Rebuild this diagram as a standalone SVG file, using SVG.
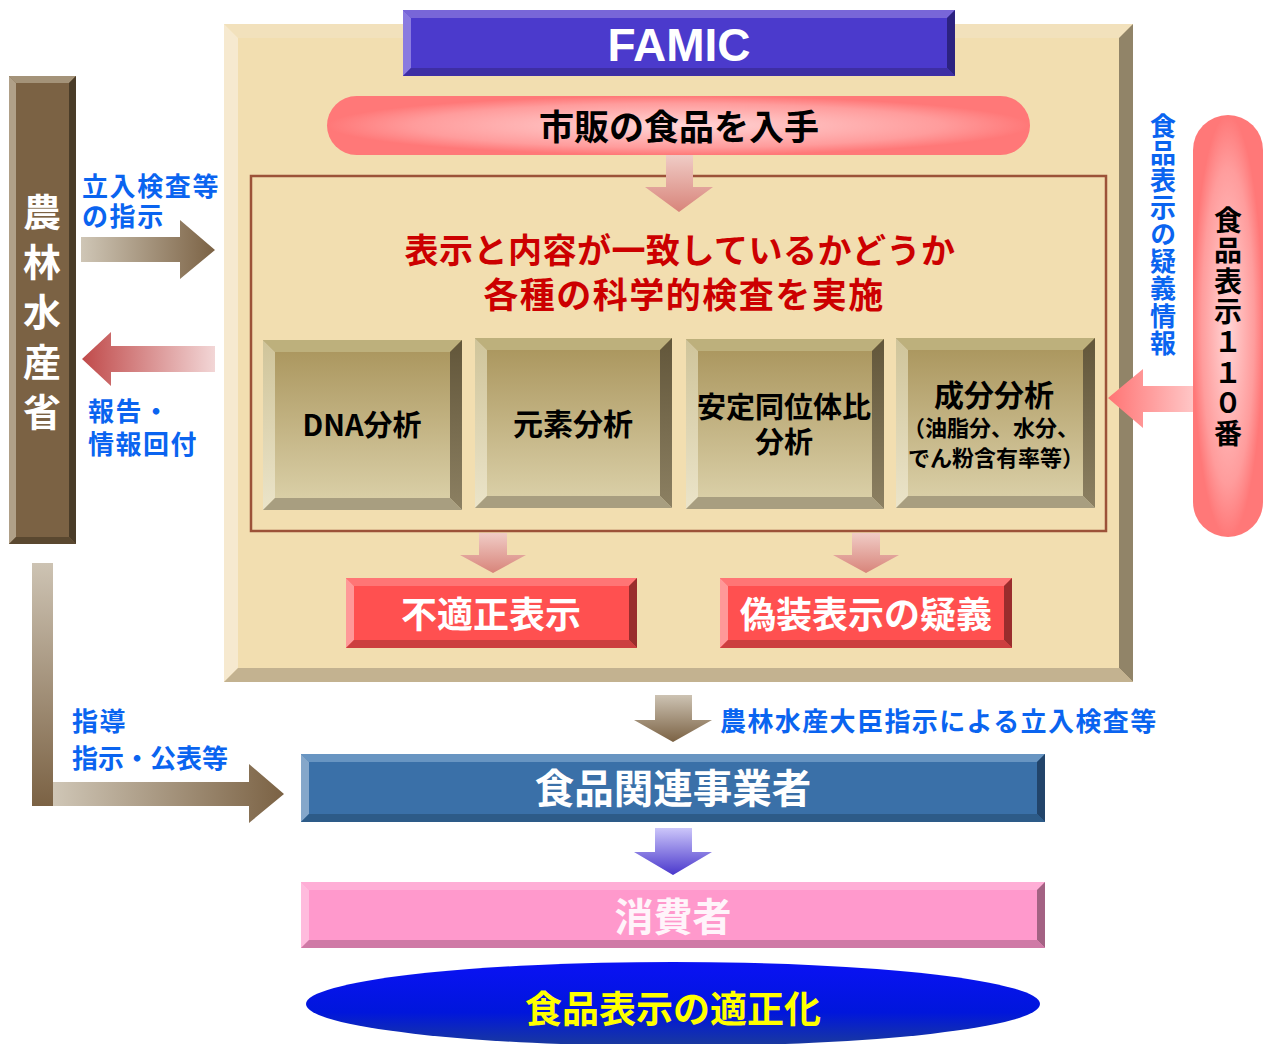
<svg xmlns="http://www.w3.org/2000/svg" width="1265" height="1044" viewBox="0 0 1265 1044">
<style>
text{font-family:"Noto Sans CJK JP","Noto Sans CJK SC",sans-serif;font-weight:700}
.c{text-anchor:middle}
.blue{fill:#0a64f0;font-size:26px}
.wh{fill:#ffffff}
.bk{fill:#000000}
.vt{writing-mode:vertical-rl;text-orientation:upright}
.famic{font-family:"Liberation Sans",Arial,sans-serif;font-weight:700;font-size:46px;fill:#ffffff}
</style>
<defs>
<radialGradient id="pill" cx="0.5" cy="0.5" r="0.5"><stop offset="0" stop-color="#ffd6d6"/><stop offset="0.75" stop-color="#ff9c9c"/><stop offset="1" stop-color="#ff7878"/></radialGradient>
<linearGradient id="pinkDown" x1="0" y1="0" x2="0" y2="1"><stop offset="0" stop-color="#f0ccc6"/><stop offset="1" stop-color="#d8847a"/></linearGradient>
<linearGradient id="brownDown" x1="0" y1="0" x2="0" y2="1"><stop offset="0" stop-color="#cdc3b3"/><stop offset="1" stop-color="#7b6244"/></linearGradient>
<linearGradient id="purpleDown" x1="0" y1="0" x2="0" y2="1"><stop offset="0" stop-color="#ccc6fa"/><stop offset="1" stop-color="#4a38cc"/></linearGradient>
<linearGradient id="brownRight" x1="0" y1="0" x2="1" y2="0"><stop offset="0" stop-color="#cfc6b6"/><stop offset="1" stop-color="#7b6244"/></linearGradient>
<linearGradient id="redLeft" x1="0" y1="0" x2="1" y2="0"><stop offset="0" stop-color="#c04a4a"/><stop offset="1" stop-color="#f2d6d6"/></linearGradient>
<linearGradient id="pinkLeft" x1="0" y1="0" x2="1" y2="0"><stop offset="0" stop-color="#ff7474"/><stop offset="1" stop-color="#ffc6c6"/></linearGradient>
<linearGradient id="anaFace" x1="0" y1="0" x2="0" y2="1"><stop offset="0" stop-color="#a8935a"/><stop offset="1" stop-color="#ddd3ac"/></linearGradient>
<linearGradient id="anaLeft" x1="0" y1="0" x2="0" y2="1"><stop offset="0" stop-color="#cfc49a"/><stop offset="1" stop-color="#ebe4c9"/></linearGradient>
<linearGradient id="anaRight" x1="0" y1="0" x2="0" y2="1"><stop offset="0" stop-color="#62563a"/><stop offset="1" stop-color="#8c8062"/></linearGradient>
<linearGradient id="ell" x1="0" y1="0" x2="0" y2="1"><stop offset="0" stop-color="#0a12f4"/><stop offset="0.6" stop-color="#0016dc"/><stop offset="1" stop-color="#1a3a9c"/></linearGradient>
</defs>

<g id="famic-panel">
<rect x="224" y="24" width="909" height="658" fill="#f2deb0"/>
<polygon points="224,24 1133,24 1119,38 238,38" fill="#f2e1bc"/>
<polygon points="224,24 238,38 238,668 224,682" fill="#f6e9cf"/>
<polygon points="1133,24 1133,682 1119,668 1119,38" fill="#918468"/>
<polygon points="224,682 238,668 1119,668 1133,682" fill="#c3b290"/>
</g>

<g id="famic-title">
<rect x="403" y="10" width="552" height="66" fill="#4b3acc"/>
<polygon points="403,10 955,10 947,18 411,18" fill="#7866d8"/>
<polygon points="403,10 411,18 411,68 403,76" fill="#8a7ae0"/>
<polygon points="955,10 955,76 947,68 947,18" fill="#2c2280"/>
<polygon points="403,76 411,68 947,68 955,76" fill="#3e2ea4"/>
<text class="famic c" x="679" y="61">FAMIC</text>
</g>

<g id="obtain">
<rect x="327" y="96" width="703" height="59" rx="29.5" fill="url(#pill)"/>
<text class="c bk" x="679" y="140" font-size="35">市販の食品を入手</text>
</g>

<g id="inspection">
<rect x="251" y="176" width="855" height="355" fill="none" stroke="#9c5238" stroke-width="2.5"/>
<text class="c" fill="#cc0000"><tspan x="680" y="263" font-size="34" letter-spacing="0.5">表示と内容が一致しているかどうか</tspan><tspan x="684" y="308" font-size="35" letter-spacing="1.5">各種の科学的検査を実施</tspan></text>
</g>

<g id="dna">
<rect x="263" y="340" width="199" height="170" fill="url(#anaFace)"/>
<polygon points="263,340 462,340 450,352 275,352" fill="#bdb07c"/>
<polygon points="263,340 275,352 275,498 263,510" fill="url(#anaLeft)"/>
<polygon points="462,340 462,510 450,498 450,352" fill="url(#anaRight)"/>
<polygon points="263,510 275,498 450,498 462,510" fill="#a89e80"/>
<text class="c bk" x="362" y="436" font-size="29">DNA分析</text>
</g>

<g id="element">
<rect x="475" y="338" width="197" height="170" fill="url(#anaFace)"/>
<polygon points="475,338 672,338 660,350 487,350" fill="#bdb07c"/>
<polygon points="475,338 487,350 487,496 475,508" fill="url(#anaLeft)"/>
<polygon points="672,338 672,508 660,496 660,350" fill="url(#anaRight)"/>
<polygon points="475,508 487,496 660,496 672,508" fill="#a89e80"/>
<text class="c bk" x="573" y="435" font-size="30">元素分析</text>
</g>

<g id="isotope">
<rect x="686" y="339" width="198" height="170" fill="url(#anaFace)"/>
<polygon points="686,339 884,339 872,351 698,351" fill="#bdb07c"/>
<polygon points="686,339 698,351 698,497 686,509" fill="url(#anaLeft)"/>
<polygon points="884,339 884,509 872,497 872,351" fill="url(#anaRight)"/>
<polygon points="686,509 698,497 872,497 884,509" fill="#a89e80"/>
<text class="c bk" font-size="29"><tspan x="784" y="418">安定同位体比</tspan><tspan x="784" y="453">分析</tspan></text>
</g>

<g id="component">
<rect x="896" y="338" width="199" height="170" fill="url(#anaFace)"/>
<polygon points="896,338 1095,338 1083,350 908,350" fill="#bdb07c"/>
<polygon points="896,338 908,350 908,496 896,508" fill="url(#anaLeft)"/>
<polygon points="1095,338 1095,508 1083,496 1083,350" fill="url(#anaRight)"/>
<polygon points="896,508 908,496 1083,496 1095,508" fill="#a89e80"/>
<text class="c bk"><tspan x="994" y="406" font-size="30">成分分析</tspan><tspan x="991" y="436" font-size="22">（油脂分、水分、</tspan><tspan x="996" y="466" font-size="22">でん粉含有率等）</tspan></text>
</g>

<g id="improper">
<rect x="346" y="578" width="291" height="70" fill="#ff5050"/>
<polygon points="346,578 637,578 629,586 354,586" fill="#ff7575"/>
<polygon points="346,578 354,586 354,640 346,648" fill="#ff9898"/>
<polygon points="637,578 637,648 629,640 629,586" fill="#9a2d2d"/>
<polygon points="346,648 354,640 629,640 637,648" fill="#cc3f3f"/>
<text class="c wh" x="491" y="628" font-size="36">不適正表示</text>
</g>

<g id="fraud">
<rect x="720" y="578" width="292" height="70" fill="#ff5050"/>
<polygon points="720,578 1012,578 1004,586 728,586" fill="#ff7575"/>
<polygon points="720,578 728,586 728,640 720,648" fill="#ff9898"/>
<polygon points="1012,578 1012,648 1004,640 1004,586" fill="#9a2d2d"/>
<polygon points="720,648 728,640 1004,640 1012,648" fill="#cc3f3f"/>
<text class="c wh" x="866" y="628" font-size="36">偽装表示の疑義</text>
</g>

<g id="maff">
<rect x="9" y="76" width="67" height="468" fill="#7b6244"/>
<polygon points="9,76 76,76 69,83 16,83" fill="#a49379"/>
<polygon points="9,76 16,83 16,537 9,544" fill="#b0a088"/>
<polygon points="76,76 76,544 69,537 69,83" fill="#4a3c28"/>
<polygon points="9,544 16,537 69,537 76,544" fill="#5a4830"/>
<text class="vt wh" x="42" y="193" font-size="38" letter-spacing="12">農林水産省</text>
</g>

<g id="hotline">
<rect x="1193" y="115" width="70" height="422" rx="35" fill="url(#pill)"/>
<text class="vt bk" x="1228" y="206" font-size="28" letter-spacing="2.5">食品表示１１０番</text>
</g>

<g id="business">
<rect x="301" y="754" width="744" height="68" fill="#3a70a8"/>
<polygon points="301,754 1045,754 1037,762 309,762" fill="#6895c2"/>
<polygon points="301,754 309,762 309,814 301,822" fill="#85a7ca"/>
<polygon points="1045,754 1045,822 1037,814 1037,762" fill="#22446a"/>
<polygon points="301,822 309,814 1037,814 1045,822" fill="#2d5b88"/>
<text class="c wh" x="673" y="803" font-size="39.5">食品関連事業者</text>
</g>

<g id="consumer">
<rect x="301" y="882" width="744" height="66" fill="#ff99cc"/>
<polygon points="301,882 1045,882 1037,890 309,890" fill="#ffaed6"/>
<polygon points="301,882 309,890 309,940 301,948" fill="#ffbbdd"/>
<polygon points="1045,882 1045,948 1037,940 1037,890" fill="#a36283"/>
<polygon points="301,948 309,940 1037,940 1045,948" fill="#cf7aa6"/>
<text class="c" x="673" y="931" font-size="39" fill="#fff4fa">消費者</text>
</g>

<g id="goal">
<ellipse cx="673" cy="1004" rx="367" ry="42" fill="url(#ell)"/>
<text class="c" x="673" y="1023" font-size="37" fill="#ffff00">食品表示の適正化</text>
</g>

<g id="connectors">
<polygon points="666,155 693,155 693,187 713,187 679,212 645,187 666,187" fill="url(#pinkDown)"/>
<polygon points="479,533 507,533 507,555 526,555 493,573 460,555 479,555" fill="url(#pinkDown)"/>
<polygon points="852,533 880,533 880,555 899,555 866,573 833,555 852,555" fill="url(#pinkDown)"/>
<polygon points="81,237 180,237 180,220 215,250 180,279 180,262 81,262" fill="url(#brownRight)"/>
<polygon points="82,359 111,332 111,346 215,346 215,372 111,372 111,386" fill="url(#redLeft)"/>
<polygon points="1108,398 1143,369 1143,386 1193,386 1193,412 1143,412 1143,428" fill="url(#pinkLeft)"/>
<rect x="32" y="563" width="21" height="243" fill="url(#brownDown)"/>
<polygon points="53,782 249,782 249,764 284,794 249,823 249,806 53,806" fill="url(#brownRight)"/>
<polygon points="655,695 692,695 692,720 712,720 673,742 634,720 655,720" fill="url(#brownDown)"/>
<polygon points="655,828 692,828 692,852 712,852 673,875 634,852 655,852" fill="url(#purpleDown)"/>
<text class="blue" letter-spacing="1.6"><tspan x="82" y="196">立入検査等</tspan><tspan x="82" y="226">の指示</tspan></text>
<text class="blue" letter-spacing="1.5"><tspan x="88" y="421">報告・</tspan><tspan x="88" y="454">情報回付</tspan></text>
<text class="blue"><tspan x="72" y="731" letter-spacing="1.5">指導</tspan><tspan x="72" y="768">指示・公表等</tspan></text>
<text class="blue" x="720" y="731" font-size="27" letter-spacing="1.4">農林水産大臣指示による立入検査等</text>
<text class="blue vt" x="1163" y="113" letter-spacing="1.1">食品表示の疑義情報</text>
</g>
</svg>
